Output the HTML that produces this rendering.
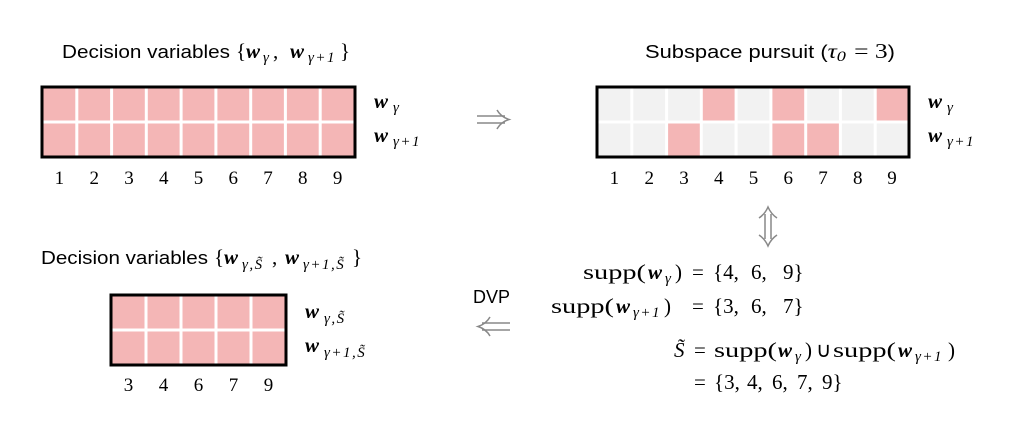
<!DOCTYPE html>
<html><head><meta charset="utf-8"><style>
html,body{margin:0;padding:0;background:#fff;}
svg{display:block}
.s{font-family:"Liberation Sans",sans-serif;font-size:18px;fill:#000}
.m{font-family:"Liberation Serif",serif;font-size:21px;fill:#000}
.w{font-family:"Liberation Serif",serif;font-style:italic;font-weight:bold;font-size:21px}
.sub{font-family:"Liberation Serif",serif;font-style:italic;font-size:15px;letter-spacing:1.5px}
.n{font-family:"Liberation Serif",serif;font-size:19px;fill:#000;text-anchor:middle}
</style></head><body>
<svg width="1036" height="440" viewBox="0 0 1036 440" xmlns="http://www.w3.org/2000/svg">
<!-- Left grid -->
<rect x="42" y="87" width="313" height="70" fill="#f4b6b6"/>
<g stroke="#fff" stroke-width="3">
<line x1="76.8" y1="87" x2="76.8" y2="157"/><line x1="111.6" y1="87" x2="111.6" y2="157"/>
<line x1="146.3" y1="87" x2="146.3" y2="157"/><line x1="181.1" y1="87" x2="181.1" y2="157"/>
<line x1="215.9" y1="87" x2="215.9" y2="157"/><line x1="250.7" y1="87" x2="250.7" y2="157"/>
<line x1="285.4" y1="87" x2="285.4" y2="157"/><line x1="320.2" y1="87" x2="320.2" y2="157"/>
<line x1="42" y1="122" x2="355" y2="122"/>
</g>
<rect x="42" y="87" width="313" height="70" fill="none" stroke="#000" stroke-width="3"/>
<g class="n">
<text x="59.4" y="184">1</text><text x="94.2" y="184">2</text><text x="129" y="184">3</text>
<text x="163.7" y="184">4</text><text x="198.5" y="184">5</text><text x="233.3" y="184">6</text>
<text x="268" y="184">7</text><text x="302.8" y="184">8</text><text x="337.6" y="184">9</text>
</g>
<text x="374" y="108" class="w">w</text><text x="393" y="112" class="sub">γ</text>
<text x="374" y="142" class="w">w</text><text x="393" y="146" class="sub">γ+1</text>
<text x="62" y="58" class="s" textLength="168" lengthAdjust="spacingAndGlyphs">Decision variables</text>
<text x="236" y="58" class="m">{</text><text x="246" y="58" class="w">w</text><text x="263" y="62" class="sub">γ</text>
<text x="273" y="58" class="m">,</text><text x="290" y="58" class="w">w</text><text x="308" y="62" class="sub">γ+1</text>
<text x="340" y="58" class="m">}</text>

<!-- Right grid -->
<rect x="597" y="87" width="312" height="70" fill="#f2f2f2"/>
<g fill="#f4b6b6">
<rect x="701.3" y="87" width="34.8" height="35"/><rect x="770.9" y="87" width="34.8" height="35"/><rect x="875.2" y="87" width="33.8" height="35"/>
<rect x="666.6" y="122" width="34.8" height="35"/><rect x="770.9" y="122" width="34.8" height="35"/><rect x="805.7" y="122" width="34.7" height="35"/>
</g>
<g stroke="#fff" stroke-width="3">
<line x1="631.8" y1="87" x2="631.8" y2="157"/><line x1="666.6" y1="87" x2="666.6" y2="157"/>
<line x1="701.3" y1="87" x2="701.3" y2="157"/><line x1="736.1" y1="87" x2="736.1" y2="157"/>
<line x1="770.9" y1="87" x2="770.9" y2="157"/><line x1="805.7" y1="87" x2="805.7" y2="157"/>
<line x1="840.4" y1="87" x2="840.4" y2="157"/><line x1="875.2" y1="87" x2="875.2" y2="157"/>
<line x1="597" y1="122" x2="909" y2="122"/>
</g>
<rect x="597" y="87" width="312" height="70" fill="none" stroke="#000" stroke-width="3"/>
<g class="n">
<text x="614.4" y="184">1</text><text x="649.2" y="184">2</text><text x="684" y="184">3</text>
<text x="718.7" y="184">4</text><text x="753.5" y="184">5</text><text x="788.3" y="184">6</text>
<text x="823" y="184">7</text><text x="857.8" y="184">8</text><text x="892" y="184">9</text>
</g>
<text x="928" y="108" class="w">w</text><text x="947" y="112" class="sub">γ</text>
<text x="928" y="142" class="w">w</text><text x="947" y="146" class="sub">γ+1</text>
<text x="645" y="58" class="s" textLength="250" lengthAdjust="spacingAndGlyphs">Subspace pursuit (<tspan class="m" font-style="italic">τ</tspan><tspan class="sub" dy="3">0</tspan><tspan class="m" dy="-3"> = 3</tspan>)</text>

<!-- Arrows -->
<g stroke="#888" stroke-width="1.5" fill="none">
<line x1="477" y1="116" x2="505" y2="116"/><line x1="477" y1="123" x2="505" y2="123"/>
<path d="M497 110 Q501 117 509 119.5 Q501 122 497 129"/>
<line x1="765" y1="214" x2="765" y2="239"/><line x1="771" y1="214" x2="771" y2="239"/>
<path d="M759 218 Q765 214 768 207 Q771 214 777 218"/>
<path d="M759 235 Q765 239 768 246 Q771 239 777 235"/>
<line x1="482" y1="323" x2="510" y2="323"/><line x1="482" y1="330" x2="510" y2="330"/>
<path d="M490 317 Q486 324 478 326.5 Q486 329 490 336"/>
</g>
<text x="473" y="303" class="s">DVP</text>

<!-- Bottom grid -->
<rect x="111" y="295" width="175" height="70" fill="#f4b6b6"/>
<g stroke="#fff" stroke-width="3">
<line x1="146" y1="295" x2="146" y2="365"/><line x1="181" y1="295" x2="181" y2="365"/>
<line x1="216" y1="295" x2="216" y2="365"/><line x1="251" y1="295" x2="251" y2="365"/>
<line x1="111" y1="330" x2="286" y2="330"/>
</g>
<rect x="111" y="295" width="175" height="70" fill="none" stroke="#000" stroke-width="3"/>
<g class="n">
<text x="128.5" y="391">3</text><text x="163.5" y="391">4</text><text x="198.5" y="391">6</text>
<text x="233.5" y="391">7</text><text x="268.5" y="391">9</text>
</g>
<text x="305" y="318" class="w">w</text><text x="324" y="323" class="sub">γ,S̃</text>
<text x="305" y="352" class="w">w</text><text x="324" y="357" class="sub">γ+1,S̃</text>
<text x="41" y="264" class="s" textLength="167" lengthAdjust="spacingAndGlyphs">Decision variables</text>
<text x="214" y="264" class="m">{</text><text x="224" y="264" class="w">w</text><text x="242" y="269" class="sub">γ,S̃</text>
<text x="272" y="264" class="m">,</text><text x="285" y="264" class="w">w</text><text x="303" y="269" class="sub">γ+1,S̃</text>
<text x="352" y="264" class="m">}</text>

<!-- Equations -->
<g class="m">
<text x="583" y="279" textLength="63" lengthAdjust="spacingAndGlyphs">supp(</text>
<text x="648" y="279" class="w">w</text><text x="665" y="283" class="sub">γ</text>
<text x="675" y="279">)</text><text x="692" y="279">=</text>
<text x="713" y="279">{4,</text><text x="751" y="279">6,</text><text x="783" y="279">9}</text>

<text x="551" y="313" textLength="63" lengthAdjust="spacingAndGlyphs">supp(</text>
<text x="616" y="313" class="w">w</text><text x="633" y="317" class="sub">γ+1</text>
<text x="664" y="313">)</text><text x="692" y="313">=</text>
<text x="713" y="313">{3,</text><text x="751" y="313">6,</text><text x="783" y="313">7}</text>

<text x="674" y="357" font-style="italic">S̃</text>
<text x="694" y="357">=</text>
<text x="714" y="357" textLength="63" lengthAdjust="spacingAndGlyphs">supp(</text>
<text x="778" y="357" class="w">w</text><text x="795" y="361" class="sub">γ</text>
<text x="805" y="357">)</text><text x="816" y="357">∪</text>
<text x="833" y="357" textLength="63" lengthAdjust="spacingAndGlyphs">supp(</text>
<text x="898" y="357" class="w">w</text><text x="915" y="361" class="sub">γ+1</text>
<text x="948" y="357">)</text>

<text x="694" y="389">=</text>
<text x="714" y="389">{3,</text><text x="747" y="389">4,</text><text x="772" y="389">6,</text><text x="797" y="389">7,</text><text x="822" y="389">9}</text>
</g>
</svg>
</body></html>
